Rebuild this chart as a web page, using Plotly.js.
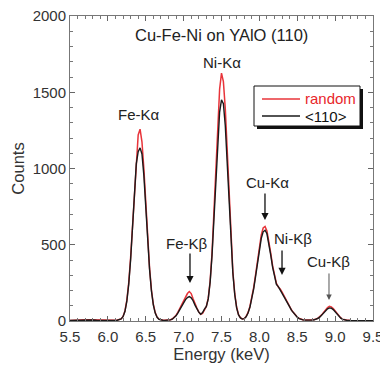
<!DOCTYPE html>
<html><head><meta charset="utf-8">
<script src="https://cdn.plot.ly/plotly-3.0.1.min.js"></script>
<style>html,body{margin:0;padding:0;background:#fff}#chart{width:380px;height:369px}</style>
</head><body><div id="chart"></div>
<script>
const energy = [5.5,5.55,5.6,5.65,5.7,5.75,5.8,5.85,5.9,5.95,6.0,6.05,6.1,
6.125,6.15,6.175,6.2,6.225,6.25,6.275,6.3,6.325,6.35,6.375,6.4,6.425,6.45,6.475,6.5,6.525,6.55,6.575,6.6,6.625,6.65,6.675,6.7,6.725,6.75,6.775,6.8,6.825,6.85,6.875,6.9,6.925,6.95,6.975,7.0,7.025,7.05,7.075,7.1,7.125,7.15,7.175,7.2,7.225,7.25,7.275,7.3,7.325,7.35,7.375,7.4,7.425,7.45,7.475,7.5,7.525,7.55,7.575,7.6,7.625,7.65,7.675,7.7,7.725,7.75,7.775,7.8,7.825,7.85,7.875,7.9,7.925,7.95,7.975,8.0,8.025,8.05,8.075,8.1,8.125,8.15,8.175,8.2,8.225,8.25,8.275,8.3,8.325,8.35,8.375,8.4,8.425,8.45,8.475,8.5,8.525,8.55,8.575,8.6,8.625,8.65,8.675,8.7,8.725,8.75,8.775,8.8,8.825,8.85,8.875,8.9,8.925,8.95,8.975,9.0,9.025,9.05,9.075,9.1,9.125,9.15,
9.2,9.25,9.3,9.35,9.4,9.45,9.5];

const countsRandom = [4,4,5,6,8,9,8,6,5,4,4,4,5,
6,9,14,30,66,135,250,415,628,862,
1075,1220,1258,1175,1000,772,545,350,205,110,
55,25,12,7,5,5,5,6,8,13,
24,37,58,82,106,130,157,180,193,180,
146,112,85,60,44,50,72,96,150,262,
448,702,998,1290,1520,1625,1570,1393,1118,817,
543,325,179,90,42,22,14,17,30,55,
95,150,220,305,400,490,565,610,620,590,
525,445,362,292,247,222,210,190,165,140,
118,95,72,55,38,26,17,11,8,6,
5,5,6,7,9,13,19,28,42,58,
75,88,96,93,82,65,48,32,20,12,
8,6,
4,3,3,3,3,2,2];

const counts110 = [3,4,4,5,7,8,7,5,4,4,3,4,4,
5,8,13,28,62,128,240,400,610,835,
1030,1110,1135,1095,955,750,530,340,198,106,
52,24,11,6,5,4,4,5,7,12,
22,34,54,78,100,120,140,154,160,152,
133,104,80,58,44,55,78,95,145,255,
430,670,940,1190,1370,1450,1425,1280,1050,785,
525,315,172,86,40,20,13,15,28,52,
90,143,210,292,383,470,542,585,595,572,
508,432,352,285,240,226,205,186,162,137,
115,93,70,53,37,25,16,10,7,6,
5,5,5,6,8,12,18,27,40,55,
70,80,86,84,75,60,45,30,19,11,
7,5,
4,3,3,2,2,2,2];

const seriesNames = ['random', '<110>'];
const seriesColors = ['#e8343a', '#1a1a1a'];
const xTickVals = [5.5,6.0,6.5,7.0,7.5,8.0,8.5,9.0,9.5];
const xTickText = ['5.5','6.0','6.5','7.0','7.5','8.0','8.5','9.0','9.5'];
const yTickVals = [0,500,1000,1500,2000];

// peak label texts and their centre positions (energy, counts)
const peakLabels = ['Fe-Kα','Ni-Kα','Cu-Kα','Fe-Kβ','Ni-Kβ','Cu-Kβ'];
const labelX = [6.411, 7.507, 8.101, 7.045, 8.444, 8.906];
const labelY = [1351, 1698, 905, 511, 544, 387];
// arrows: head position (energy, counts) for Cu-Kα, Fe-Kβ, Ni-Kβ, Cu-Kβ
const arrowX = [8.074, 7.084, 8.299, 8.919];
const arrowY = [662, 249, 302, 138];

const FONT = 'Liberation Sans, Arial, sans-serif';

const traces = seriesNames.map((n,i)=>({
  x: energy, y: i===0 ? countsRandom : counts110, type:'scatter', mode:'lines', name:n,
  line:{color:seriesColors[i], width:i===0?1.5:1.4}, showlegend:false
}));

// helpers: plot pixel -> paper
const PX = px => (px-70)/303;
const PY = py => (321-py)/305;

const annotations = [{
  xref:'paper', yref:'paper', x:0.5, y:PY(35), xanchor:'center', yanchor:'middle',
  text:'Cu-Fe-Ni on YAlO (110)', showarrow:false, font:{family:FONT, size:16.5, color:'#222'}
}];
peakLabels.forEach((t,i)=>{
  annotations.push({x:labelX[i], y:labelY[i], xref:'x', yref:'y', text:t, showarrow:false,
    xanchor:'center', yanchor:'middle', font:{family:FONT, size:15, color:'#222'}});
});
const arrowLen = [-28, -31, -26, -28];
arrowX.forEach((x,i)=>{
  annotations.push({x:x, y:arrowY[i], xref:'x', yref:'y', text:'', showarrow:true,
    ax:0, ay:arrowLen[i], arrowhead:2, arrowsize:1.1, arrowwidth:(i===3?1:1.3),
    arrowcolor:(i===3?'#555':'#111'), standoff:0});
});
// legend texts
annotations.push({xref:'paper', yref:'paper', x:PX(303), y:PY(99), xanchor:'left', yanchor:'middle',
  text:seriesNames[0], showarrow:false, font:{family:FONT, size:15, color:'#e8262b'}});
annotations.push({xref:'paper', yref:'paper', x:PX(303), y:PY(116), xanchor:'left', yanchor:'middle',
  text:'&lt;110&gt;', showarrow:false, font:{family:FONT, size:15, color:'#111'}});

const shapes = [
  {type:'rect', xref:'paper', yref:'paper', x0:PX(257), x1:PX(363), y0:PY(129), y1:PY(89),
   fillcolor:'#111', line:{width:0}, layer:'above'},
  {type:'rect', xref:'paper', yref:'paper', x0:PX(254), x1:PX(360), y0:PY(126), y1:PY(86),
   fillcolor:'#fff', line:{width:1, color:'#111'}, layer:'above'},
  {type:'line', xref:'paper', yref:'paper', x0:PX(262), x1:PX(300), y0:PY(99), y1:PY(99),
   line:{width:1.5, color:seriesColors[0]}, layer:'above'},
  {type:'line', xref:'paper', yref:'paper', x0:PX(262), x1:PX(300), y0:PY(116), y1:PY(116),
   line:{width:1.4, color:seriesColors[1]}, layer:'above'}
];

const layout = {
  width:380, height:369,
  margin:{l:70, r:7, t:16, b:48},
  paper_bgcolor:'#fff', plot_bgcolor:'#fff',
  font:{family:FONT, size:15, color:'#333'},
  showlegend:false,
  xaxis:{range:[5.5,9.5], tickvals:xTickVals, ticktext:xTickText, ticks:'inside', ticklen:5,
    tickcolor:'#666', showline:true, linecolor:'#777', linewidth:1, mirror:'allticks',
    showgrid:false, zeroline:false, tickfont:{size:15, color:'#333'}, ticklabelstandoff:2,
    ticklabeloverflow:'allow',
    minor:{dtick:0.1, ticks:'inside', ticklen:3, tickcolor:'#777', showgrid:false},
    title:{text:'Energy (keV)', font:{size:16.5, color:'#333'}, standoff:0}},
  yaxis:{range:[0,2000], tickvals:yTickVals, ticks:'inside', ticklen:5,
    tickcolor:'#666', showline:true, linecolor:'#777', linewidth:1, mirror:'allticks',
    showgrid:false, zeroline:false, tickfont:{size:15, color:'#333'},
    minor:{dtick:100, ticks:'inside', ticklen:3, tickcolor:'#777', showgrid:false},
    title:{text:'Counts', font:{size:16.5, color:'#333'}, standoff:3}},
  shapes: shapes,
  annotations: annotations
};

Plotly.newPlot('chart', traces, layout, {displayModeBar:false, staticPlot:true});
</script></body></html>
